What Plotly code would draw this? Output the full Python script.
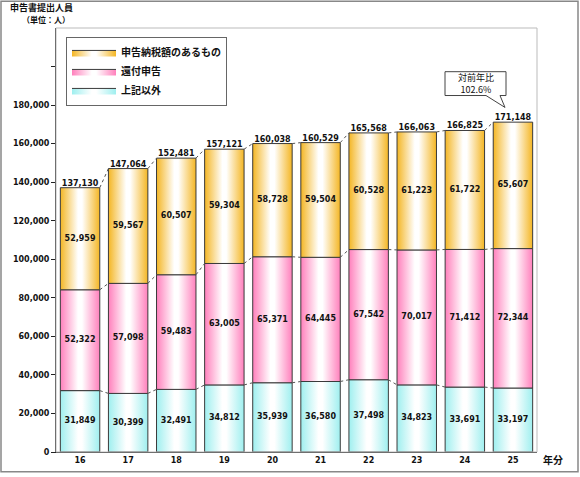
import plotly.graph_objects as go

years = ["16", "17", "18", "19", "20", "21", "22", "23", "24", "25"]
other = [31849, 30399, 32491, 34812, 35939, 36580, 37498, 34823, 33691, 33197]
refund = [52322, 57098, 59483, 63005, 65371, 64445, 67542, 70017, 71412, 72344]
taxpay = [52959, 59567, 60507, 59304, 58728, 59504, 60528, 61223, 61722, 65607]
totals = [137130, 147064, 152481, 157121, 160038, 160529, 165568, 166063, 166825, 171148]
ytick_vals = [0, 20000, 40000, 60000, 80000, 100000, 120000, 140000, 160000, 180000, 200000]
ytick_text = ["0", "20,000", "40,000", "60,000", "80,000", "100,000", "120,000",
              "140,000", "160,000", "180,000", ""]

W, H = 580, 477
ML, MR, MT, MB = 56, 43, 28, 22
PW, PH = W - ML - MR, H - MT - MB

def px(x):
    return (x - ML) / PW

def py(y):
    return (H - MB - y) / PH

FONT = "Noto Sans CJK JP"
NUMFONT = "DejaVu Sans"
HW = 0.41
xs = list(range(len(years)))

series = [
    ("上記以外", other, "#9FEFEF"),
    ("還付申告", refund, "#FF80BC"),
    ("申告納税額のあるもの", taxpay, "#F4B624"),
]

fig = go.Figure()
base = [0] * len(years)
tops_per_level = []
for name, vals, col in series:
    for i, v in enumerate(vals):
        b = base[i]
        t = b + v
        fig.add_trace(go.Scatter(
            x=[i - HW, i + HW, i + HW, i - HW, i - HW],
            y=[b, b, t, t, b],
            mode="lines", fill="toself",
            fillgradient=dict(type="horizontal",
                              colorscale=[[0, col], [0.45, "#FFFFFF"], [0.55, "#FFFFFF"], [1, col]]),
            line=dict(color="#3A3A3A", width=1),
            name=name, legendgroup=name, showlegend=(i == 0),
            hoverinfo="skip",
        ))
    base = [base[i] + vals[i] for i in range(len(vals))]
    tops_per_level.append(list(base))
    mids = [base[i] - vals[i] / 2 for i in range(len(vals))]
    fig.add_trace(go.Scatter(
        x=xs, y=mids, mode="text",
        text=[f"{v:,}" for v in vals],
        textfont=dict(family=NUMFONT, size=8, color="#111111", weight="bold"),
        showlegend=False, hoverinfo="skip",
    ))

# connector dotted lines
for tops in tops_per_level:
    cx, cy = [], []
    for i in range(len(years) - 1):
        cx += [i + HW, i + 1 - HW, None]
        cy += [tops[i], tops[i + 1], None]
    fig.add_trace(go.Scatter(x=cx, y=cy, mode="lines",
                             line=dict(color="#555555", width=1, dash="dot"),
                             showlegend=False, hoverinfo="skip"))

# totals
fig.add_trace(go.Scatter(
    x=xs, y=totals, mode="text", text=[f"{v:,}" for v in totals],
    textposition="top center",
    textfont=dict(family=NUMFONT, size=8, color="#111111", weight="bold"),
    showlegend=False, hoverinfo="skip",
))

shapes = []
shapes.append(dict(type="rect", xref="paper", yref="paper",
                   x0=px(1), x1=px(578), y0=py(475), y1=py(1),
                   line=dict(color="#888888", width=1.5)))
shapes.append(dict(type="rect", xref="paper", yref="paper",
                   x0=0, x1=1, y0=0, y1=1,
                   line=dict(color="#BBBBBB", width=1)))
cl, cr, ct, cb = 445, 506, 72, 96
p1, p2, tipx, tipy = 486, 500, 505, 108
path = (f"M {px(cl)},{py(ct)} L {px(cr)},{py(ct)} L {px(cr)},{py(cb)} "
        f"L {px(p2)},{py(cb)} L {px(tipx)},{py(tipy)} L {px(p1)},{py(cb)} "
        f"L {px(cl)},{py(cb)} Z")
shapes.append(dict(type="path", xref="paper", yref="paper", path=path,
                   fillcolor="white", line=dict(color="#444444", width=1)))

annotations = [
    dict(text="<b>申告書提出人員</b>", xref="paper", yref="paper",
         x=px(8), y=py(7), xanchor="left", yanchor="middle", showarrow=False,
         font=dict(family=FONT, size=9, color="#111111")),
    dict(text="<b>（単位：人）</b>", xref="paper", yref="paper",
         x=px(20), y=py(19), xanchor="left", yanchor="middle", showarrow=False,
         font=dict(family=FONT, size=8, color="#111111")),
    dict(text="<b>年分</b>", xref="paper", yref="paper",
         x=px(541), y=py(463), xanchor="left", yanchor="middle", showarrow=False,
         font=dict(family=FONT, size=10, color="#111111")),
    dict(text="対前年比<br>102.6%", xref="paper", yref="paper",
         x=px((cl + cr) / 2), y=py((ct + cb) / 2), xanchor="center", yanchor="middle",
         showarrow=False, font=dict(family=FONT, size=9, color="#111111")),
]

fig.update_layout(
    width=W, height=H,
    margin=dict(l=ML, r=MR, t=MT, b=MB),
    paper_bgcolor="white", plot_bgcolor="white",
    shapes=shapes, annotations=annotations,
    font=dict(family=FONT, size=8, color="#111111"),
    legend=dict(x=px(66), y=py(37), xanchor="left", yanchor="top",
                bordercolor="#666666", borderwidth=1, bgcolor="white",
                traceorder="reversed", itemwidth=44,
                font=dict(family=FONT, size=10, weight="bold"),
                tracegroupgap=0),
    xaxis=dict(range=[-0.5, len(years) - 0.5], tickvals=xs, ticktext=years,
               showgrid=False, zeroline=False, showline=True, linecolor="#222222",
               ticks="", tickfont=dict(family=NUMFONT, size=8, weight="bold")),
    yaxis=dict(range=[0, 220000], tickvals=ytick_vals, ticktext=ytick_text,
               showgrid=False, zeroline=False, showline=True, linecolor="#222222",
               ticks="outside", ticklen=4, tickcolor="#222222",
               tickfont=dict(family=NUMFONT, size=8, weight="bold")),
)

fig.write_html("out.html", config={"displayModeBar": False},
               post_script="document.body.style.margin='0';document.body.style.overflow='hidden';")
